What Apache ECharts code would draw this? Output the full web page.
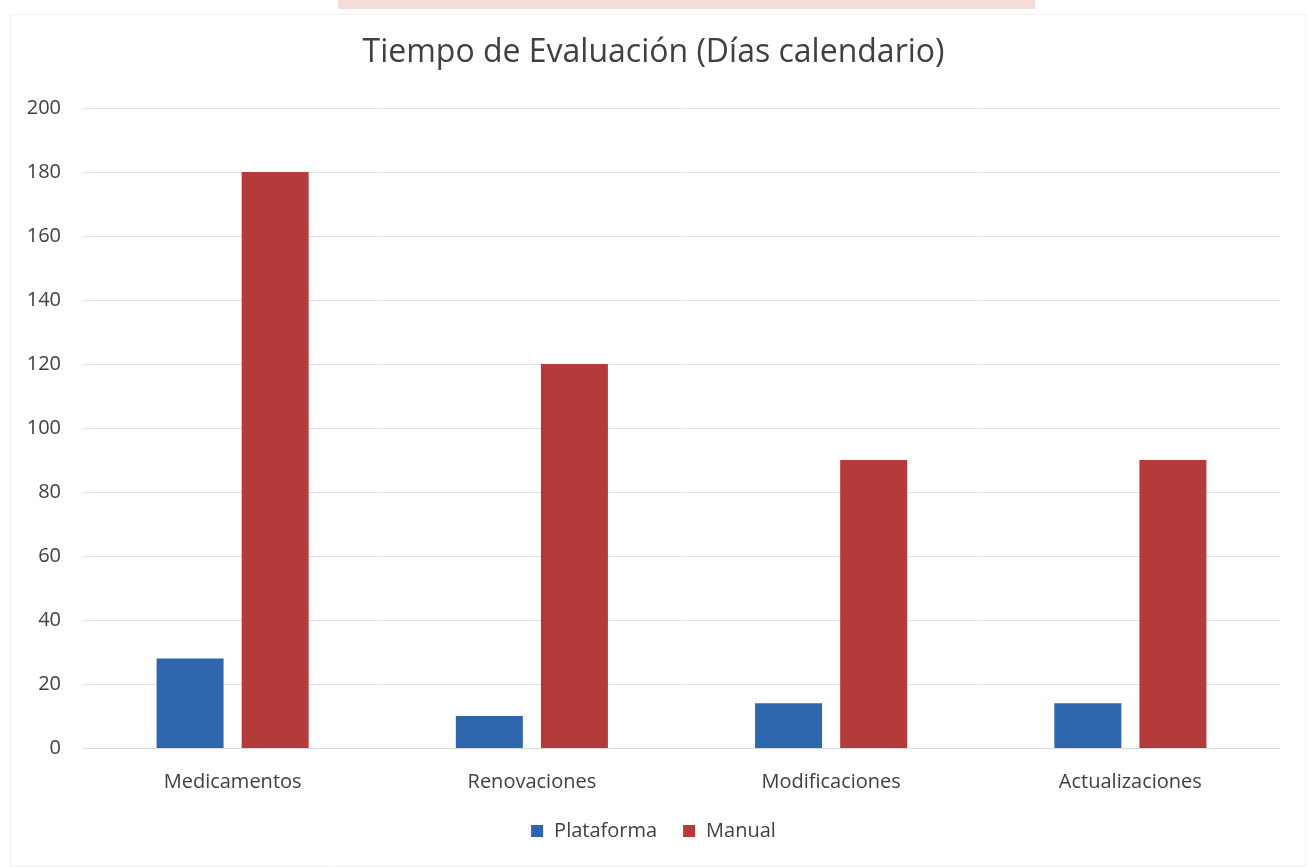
<!DOCTYPE html>
<html>
<head>
<meta charset="utf-8">
<script src="https://cdn.jsdelivr.net/npm/echarts@6/dist/echarts.min.js"></script>
<style>html,body{margin:0;padding:0;background:#fff;}#c{width:1307px;height:867px;}</style>
</head>
<body>
<div id="c"></div>
<script>
const titleText = 'Tiempo de Evaluación (Días calendario)';
const categories = ['Medicamentos', 'Renovaciones', 'Modificaciones', 'Actualizaciones'];
const seriesNames = ['Plataforma', 'Manual'];
const plataforma = [28, 10, 14, 14];
const manual = [180, 120, 90, 90];
const yTicks = [0, 20, 40, 60, 80, 100, 120, 140, 160, 180, 200];

const font = '"Open Sans", "Noto Sans", sans-serif';
const chart = echarts.init(document.getElementById('c'));
chart.setOption({
  backgroundColor: '#fff',
  animation: false,
  graphic: [
    { type: 'rect', left: 338, top: 0, shape: { width: 697, height: 9 }, style: { fill: '#f5ddd9' }, silent: true },
    { type: 'rect', left: 8, top: 12, shape: { width: 1295, height: 852 }, style: { fill: 'none', stroke: '#f0f0f0', lineWidth: 1 }, silent: true }
  ],
  title: {
    text: titleText, left: 'center', top: 32,
    textStyle: { fontFamily: font, fontSize: 32, fontWeight: 'normal', color: '#404040' }
  },
  legend: {
    data: seriesNames, bottom: 21, left: 'center', itemWidth: 12, itemHeight: 12, itemGap: 26,
    icon: 'rect',
    textStyle: { fontFamily: font, fontSize: 20, color: '#404040', padding: [0, 0, 0, 6] }
  },
  grid: { left: 83, right: 27, top: 108, bottom: 119, containLabel: false },
  xAxis: {
    type: 'category', data: categories,
    axisLine: { lineStyle: { color: '#d9d9d9' } },
    axisTick: { show: false },
    axisLabel: { fontFamily: font, fontSize: 20, color: '#404040', margin: 24 }
  },
  yAxis: {
    type: 'value', min: yTicks[0], max: yTicks[yTicks.length - 1], interval: 20,
    axisLine: { show: false }, axisTick: { show: false },
    splitLine: { lineStyle: { color: '#e2e2ea' } },
    axisLabel: { fontFamily: font, fontSize: 20, color: '#404040', margin: 22 }
  },
  series: [
    { name: seriesNames[0], type: 'bar', data: plataforma, barWidth: 67, barGap: '27%', itemStyle: { color: '#2f65ad' } },
    { name: seriesNames[1], type: 'bar', data: manual, barWidth: 67, itemStyle: { color: '#b53b3b' } }
  ]
});
</script>
</body>
</html>
